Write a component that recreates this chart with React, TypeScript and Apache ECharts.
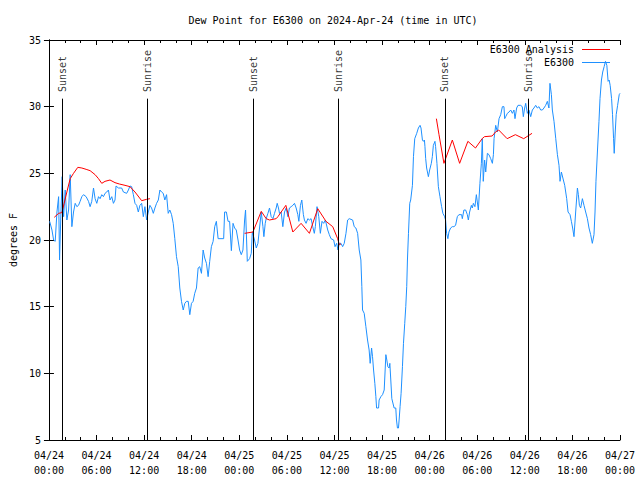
import React, { useEffect, useRef } from "react";
import * as echarts from "echarts";

// Observed dew point (E6300), hours since 2024-04-24 00:00 UTC
const obsHours = [
  0.09, 0.38, 0.59, 0.79, 1.01, 1.22, 1.34, 1.51, 1.67, 1.85, 2.05, 2.26, 2.48, 2.68, 2.89, 3.1, 3.31, 3.52, 3.73, 3.93,
  4.15, 4.36, 4.69, 4.99, 5.19, 5.4, 5.62, 5.82, 6.03, 6.25, 6.45, 6.66, 6.87, 7.07, 7.29, 7.5, 7.7, 7.92, 8.13, 8.33,
  8.46, 8.76, 9.17, 9.39, 9.8, 10.02, 10.22, 10.43, 10.64, 10.85, 11.06, 11.27, 11.47, 11.69, 11.9, 12.1, 12.32, 12.53, 12.73, 12.94,
  13.16, 13.36, 13.57, 13.79, 13.99, 14.2, 14.41, 14.61, 14.83, 15.04, 15.24, 15.46, 15.67, 15.87, 16.08, 16.3, 16.5, 16.71, 16.93, 17.13,
  17.34, 17.56, 17.76, 17.97, 18.18, 18.38, 18.6, 18.81, 19.01, 19.23, 19.44, 19.64, 19.86, 20.07, 20.27, 20.48, 20.7, 20.9, 21.11, 21.33,
  22.03, 22.15, 22.37, 22.58, 22.78, 23.0, 23.21, 23.41, 23.62, 23.84, 24.04, 24.25, 24.46, 24.67, 24.79, 25.01, 25.3, 25.51, 25.64, 25.92,
  26.14, 26.35, 26.55, 26.77, 26.98, 27.1, 27.27, 27.39, 27.61, 27.81, 28.02, 28.24, 28.44, 28.65, 28.78, 28.94, 29.07, 29.28, 29.49, 29.7,
  29.91, 30.12, 30.32, 30.54, 30.75, 30.96, 31.17, 31.38, 31.51, 31.71, 31.88, 32.08, 32.21, 32.42, 32.64, 32.84, 33.05, 33.26, 33.46, 33.59,
  33.8, 34.02, 34.22, 34.43, 34.64, 34.85, 35.15, 35.35, 35.56, 35.9, 36.07, 36.28, 36.44, 36.61, 36.82, 37.03, 37.23, 37.45, 37.66, 37.86,
  38.29, 38.49, 38.7, 38.92, 39.12, 39.33, 39.45, 39.54, 39.75, 39.96, 40.17, 40.37, 40.5, 40.68, 40.8, 40.93, 41.09, 41.22, 41.31, 41.56,
  41.63, 41.85, 42.06, 42.27, 42.39, 42.48, 42.6, 42.73, 42.89, 42.98, 43.1, 43.23, 43.52, 43.73, 43.82, 43.94, 44.07, 44.15, 44.27, 44.4,
  44.57, 44.7, 44.86, 44.99, 45.11, 45.2, 45.33, 45.49, 45.61, 45.83, 45.96, 46.12, 46.37, 46.58, 46.79, 46.91, 47.09, 47.21, 47.34, 47.41,
  47.5, 47.62, 47.84, 48.0, 48.21, 48.34, 48.47, 48.67, 48.75, 48.92, 49.1, 49.3, 49.51, 49.67, 49.89, 50.01, 50.14, 50.3, 50.43, 50.64,
  50.86, 51.06, 51.27, 51.49, 51.69, 52.03, 52.12, 52.32, 52.54, 52.75, 52.88, 53.04, 53.26, 53.38, 53.51, 53.71, 53.89, 54.14, 54.34, 54.52,
  54.64, 54.76, 54.93, 55.07, 55.28, 55.48, 55.7, 55.91, 56.04, 56.12, 56.33, 56.54, 56.75, 56.96, 57.17, 57.37, 57.46, 57.59, 57.8, 58.01,
  58.22, 58.43, 58.63, 58.76, 58.97, 59.14, 59.47, 59.68, 59.81, 59.98, 60.11, 60.32, 60.52, 60.74, 60.95, 61.15, 61.37, 61.58, 61.78, 62.0,
  62.21, 62.41, 62.63, 62.84, 63.04, 63.17, 63.35, 63.47, 63.68, 63.9, 64.11, 64.31, 64.44, 64.61, 64.86, 65.03, 65.28, 65.45, 65.7, 65.87,
  66.03, 66.2, 66.41, 66.63, 66.75, 66.88, 67.04, 67.26, 67.46, 67.67, 67.89, 68.09, 68.3, 68.51, 68.72, 68.85, 68.97, 69.15, 69.35, 69.48,
  69.66, 69.82, 70.0, 70.17, 70.34, 70.5, 70.63, 70.76, 70.94, 71.06, 71.19, 71.27, 71.4, 71.52, 71.7, 71.9, 72.0,
];
const obsDew = [
  21.4, 20.75, 20.0, 19.9, 22.1, 23.25, 18.5, 22, 24.75, 21.75, 23.75, 21.5, 22.25, 24.9, 21, 22.1, 22.75, 22.5, 22.6, 22.9,
  23.25, 23.4, 23.25, 22.9, 22.5, 22.9, 23.9, 23.1, 22.75, 23.25, 23.1, 23.4, 23.25, 23.5, 23.6, 23.75, 23, 23.25, 22.75, 23,
  24.05, 23.9, 23.9, 23.6, 23.5, 23.75, 24.05, 24, 23.4, 22.75, 22.6, 22.1, 22.6, 22.75, 21.75, 22.5, 21.5, 22.1, 22.6, 22.4,
  22, 22.4, 22.75, 23, 23.75, 23.6, 23.5, 23, 23.4, 22, 22.25, 21.9, 21.25, 20.1, 18.75, 18, 16.4, 15.4, 14.75, 15.25,
  15.4, 15.4, 14.4, 15.25, 15.4, 16, 16.4, 17.9, 18, 17.5, 19.25, 18.65, 18.25, 17.25, 18.4, 19.5, 19.9, 21, 21.4, 20.1,
  20.1, 22.1, 22.1, 21.4, 21.4, 19.2, 21.25, 20.9, 20.75, 20, 19.25, 18.9, 19.25, 21.5, 22.25, 18.4, 18.6, 19, 20.6, 20,
  19.4, 19.75, 20.9, 22.1, 21, 20.25, 21.25, 21.6, 22, 22.4, 21.75, 21.6, 22, 22.4, 22.75, 22.4, 22, 22.1, 21, 22.1,
  22.4, 21.75, 22.4, 22.5, 22.6, 22.75, 22.4, 21.9, 21.4, 22.6, 23, 21.9, 21.5, 21.25, 21.6, 21.5, 21.6, 21, 20.5, 21,
  22.5, 21.75, 20.5, 21.4, 21.25, 21.5, 20.75, 20.4, 20.1, 20, 19.5, 19.75, 19.25, 19.75, 19.75, 19.5, 19.75, 20.5, 21.5, 21.6,
  21.5, 21, 20.9, 20.5, 19.25, 18.5, 16.5, 14.75, 14.5, 13.5, 12.5, 11.75, 10.75, 11.9, 11.25, 10.25, 9.25, 8.25, 7.4, 7.4,
  8, 8.25, 8.4, 8.75, 10.25, 11.4, 11, 10.5, 10.4, 10.75, 9.5, 8.1, 7.4, 7.4, 6.5, 5.9, 5.9, 6.5, 7.5, 8.5,
  10.5, 12.25, 13.75, 15, 16.5, 18.5, 20.5, 22.75, 23, 24.1, 26.25, 27.6, 28, 28.4, 28.6, 28.4, 27.5, 27.4, 27.5, 27,
  26.1, 25.4, 24.75, 25.25, 25.75, 26.25, 27.1, 27.4, 27, 25.75, 24, 23.25, 22.5, 22, 21.75, 21.5, 20.5, 20.1, 20.6, 20.9,
  21, 21, 21.1, 21.75, 21.9, 21.9, 21.6, 22.25, 22.25, 21.9, 21.5, 22.1, 22.6, 22.4, 22.75, 22.5, 23.4, 22.25, 24.25, 25.75,
  27.6, 24.4, 26, 25.1, 26.5, 26.4, 26.1, 25.75, 26.4, 27.6, 28.6, 28.1, 29.1, 29.4, 30, 30, 29.1, 29.25, 29.5, 29.6,
  29.75, 29.5, 29.75, 29.1, 29.9, 30.1, 30.1, 30, 29.25, 29.9, 30.25, 29.5, 29.75, 29.25, 29.75, 29.9, 30.1, 29.9, 30, 29.75,
  29.75, 29.9, 30.1, 30.4, 29.9, 31.75, 30.9, 29.75, 28.9, 27.6, 26.4, 25.6, 24.4, 25.1, 24.5, 24.1, 23.1, 22.1, 21.9, 21.4,
  20.9, 20.25, 22.1, 23.9, 23.4, 22.6, 22.4, 23.1, 22.6, 22.1, 21.6, 20.9, 20.4, 19.75, 20.4, 22.1, 24.4, 26.6, 28.9, 30.6,
  32, 32.6, 33, 33.4, 33.1, 31.9, 32, 31.6, 30.6, 29.4, 27.6, 26.5, 28.1, 29.4, 30.1, 30.9, 31,
];

// Analysis (three separate runs)
const anaHours1 = [0.67, 1.22, 1.63, 1.92, 2.26, 2.68, 3.1, 3.64, 4.15, 4.69, 5.19, 5.82, 6.25, 6.66, 7.07, 7.7, 8.33, 8.88, 9.59, 10.22, 10.85, 11.69, 12.32, 12.73];
const anaDew1 = [21.7, 22.0, 22.05, 22.75, 23.6, 24.6, 25.0, 25.45, 25.4, 25.3, 25.2, 24.9, 24.6, 24.25, 24.4, 24.5, 24.3, 24.2, 24.1, 24.0, 23.6, 22.95, 23.05, 23.1];
const anaHours2 = [24.67, 25.72, 26.77, 27.39, 27.81, 28.65, 28.87, 29.87, 30.75, 31.79, 32.84, 33.89, 34.93, 35.78, 36.4, 36.61, 36.82];
const anaDew2 = [20.5, 20.6, 22.15, 21.6, 21.5, 21.6, 21.75, 22.6, 20.6, 21.25, 20.5, 22.35, 21.4, 21.0, 20.1, 19.65, 19.7];
const anaHours3 = [48.85, 49.18, 49.8, 50.86, 51.78, 52.82, 53.78, 54.62, 54.91, 55.88, 56.3, 56.71, 57.77, 58.81, 59.86, 60.91];
const anaDew3 = [29.1, 27.9, 25.75, 27.5, 25.75, 27.4, 26.9, 27.6, 27.75, 27.8, 28.1, 28.25, 27.6, 27.9, 27.6, 28.0];

const sunHours = [1.72, 12.38, 25.8, 36.48, 49.92, 60.48];
const sunNames = ["Sunset", "Sunrise", "Sunset", "Sunrise", "Sunset", "Sunrise"];

const xTickLabels = [
  "04/24\n00:00", "04/24\n06:00", "04/24\n12:00", "04/24\n18:00",
  "04/25\n00:00", "04/25\n06:00", "04/25\n12:00", "04/25\n18:00",
  "04/26\n00:00", "04/26\n06:00", "04/26\n12:00", "04/26\n18:00",
  "04/27\n00:00",
];

const FONT = "DejaVu Sans Mono";
const BLUE = "#1e90ff";
const RED = "#ff0000";

const zip = (a: number[], b: number[]) => a.map((v, i) => [v, b[i]]);

export default function App() {
  const ref = useRef<HTMLDivElement>(null);
  useEffect(() => {
    if (!ref.current) return;
    const chart = echarts.init(ref.current, undefined, { renderer: "svg" });
    const axisCommon = {
      axisLine: { show: true, lineStyle: { color: "#000", width: 1 } },
      splitLine: { show: false },
    };
    const redSeries = [
      zip(anaHours1, anaDew1),
      zip(anaHours2, anaDew2),
      zip(anaHours3, anaDew3),
    ].map((d) => ({
      type: "line",
      name: "E6300 Analysis",
      data: d,
      symbol: "none",
      lineStyle: { color: RED, width: 1 },
      z: 4,
    }));
    chart.setOption({
      animation: false,
      backgroundColor: "#fff",
      title: {
        text: "Dew Point for E6300 on 2024-Apr-24 (time in UTC)",
        left: 328,
        textAlign: "center",
        top: 10,
        textStyle: { fontFamily: FONT, fontSize: 10, fontWeight: "normal", color: "#000" },
      },
      grid: { left: 47, right: 20, top: 40, bottom: 40 },
      xAxis: [
        {
          type: "value",
          min: 0,
          max: 72,
          interval: 6,
          position: "bottom",
          ...axisCommon,
          axisTick: { show: true, inside: true, length: 5, lineStyle: { color: "#000" } },
          minorTick: { show: true, splitNumber: 3, length: 3, lineStyle: { color: "#000" } },
          axisLabel: {
            show: true,
            margin: 8,
            fontFamily: FONT,
            fontSize: 10,
            lineHeight: 15,
            color: "#000",
            formatter: (v: number) => xTickLabels[Math.round(v / 6)] ?? "",
          },
        },
        {
          type: "value",
          min: 0,
          max: 72,
          interval: 6,
          position: "top",
          ...axisCommon,
          axisTick: { show: true, inside: true, length: 5, lineStyle: { color: "#000" } },
          minorTick: { show: true, splitNumber: 3, length: 3, lineStyle: { color: "#000" } },
          axisLabel: { show: false },
        },
      ],
      yAxis: [
        {
          type: "value",
          min: 5,
          max: 35,
          interval: 5,
          position: "left",
          ...axisCommon,
          name: "degrees F",
          nameLocation: "middle",
          nameRotate: 90,
          nameGap: 30,
          nameTextStyle: { fontFamily: FONT, fontSize: 10, color: "#000" },
          axisTick: { show: true, inside: true, length: 5, lineStyle: { color: "#000" } },
          axisLabel: { show: true, margin: 8, fontFamily: FONT, fontSize: 10, color: "#000" },
        },
        {
          type: "value",
          min: 5,
          max: 35,
          interval: 5,
          position: "right",
          ...axisCommon,
          axisTick: { show: true, inside: true, length: 5, lineStyle: { color: "#000" } },
          axisLabel: { show: false },
        },
      ],
      series: [
        {
          type: "line",
          name: "E6300",
          data: zip(obsHours, obsDew),
          symbol: "none",
          lineStyle: { color: BLUE, width: 1 },
          z: 3,
          markLine: {
            silent: true,
            symbol: "none",
            label: { show: false },
            lineStyle: { color: "#000", width: 1, type: "solid" },
            data: sunHours.map((h) => [{ coord: [h, 30.6] }, { coord: [h, 5] }]),
          },
        },
        ...redSeries,
        {
          type: "scatter",
          name: "sun",
          data: sunHours.map((h, i) => [h, 31.1, sunNames[i]]),
          symbolSize: 0,
          silent: true,
          label: {
            show: true,
            position: [0, 0],
            rotate: 90,
            align: "left",
            verticalAlign: "middle",
            fontFamily: FONT,
            fontSize: 10,
            color: "#000",
            formatter: (p: any) => p.data[2],
          },
        },
      ],
      graphic: [
        {
          type: "text",
          right: 66,
          top: 44,
          style: { text: "E6300 Analysis", font: `10px '${FONT}'`, fill: "#000", textAlign: "right" },
        },
        {
          type: "line",
          shape: { x1: 582, y1: 49.5, x2: 610, y2: 49.5 },
          style: { stroke: RED, lineWidth: 1 },
        },
        {
          type: "text",
          right: 66,
          top: 57,
          style: { text: "E6300", font: `10px '${FONT}'`, fill: "#000", textAlign: "right" },
        },
        {
          type: "line",
          shape: { x1: 582, y1: 62.5, x2: 610, y2: 62.5 },
          style: { stroke: BLUE, lineWidth: 1 },
        },
      ],
    });
    return () => chart.dispose();
  }, []);
  return (
    <div
      ref={ref}
      style={{ position: "fixed", left: 0, top: 0, width: 640, height: 480, background: "#fff" }}
    />
  );
}
